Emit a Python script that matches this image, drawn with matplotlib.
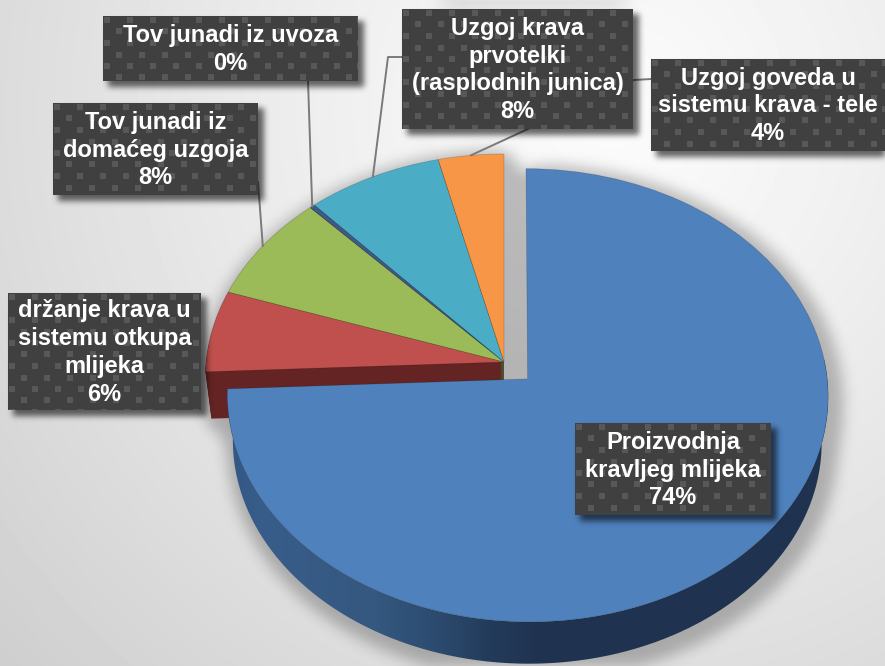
import numpy as np
import matplotlib
matplotlib.use('Agg')
import matplotlib.pyplot as plt
from matplotlib.path import Path
from matplotlib.transforms import Transform

plt.rcParams["font.family"] = ["Liberation Sans", "DejaVu Sans"]

# data
categories = ['Proizvodnja\nkravljeg mlijeka', 'držanje krava u\nsistemu otkupa\nmlijeka',
              'Tov junadi iz\ndomaćeg uzgoja', 'Tov junadi iz uvoza',
              'Uzgoj krava\nprvotelki\n(rasplodnih junica)', 'Uzgoj goveda u\nsistemu krava - tele']
shares = [74.3, 5.9, 7.8, 0.3, 7.9, 3.8]
explode = [0.109, 0, 0, 0, 0, 0]
colors = ['#4f81bd', '#c0504d', '#9bbb59', '#3f5a86', '#4bacc6', '#f79646']
wall_colors = ['#1f3350', '#632423', '#4f6228', '#403152', '#205867', '#974806']

# label boxes: x0, x1, y0, y1 in pixels
boxes = [(575, 771, 423, 515), (8, 201, 293, 410), (53, 258, 103, 195),
         (103, 358, 16, 81), (402, 633, 9, 129), (651, 885, 59, 151)]
# where the leader leaves the box, one or two points
leaders = [None, None, [(258, 182)], [(308, 81)], [(402, 57), (388, 57)], [(651, 79), (634, 80)]]

W, H = 885, 666
CX, CY, RX, RY, P = 504, 362, 298, 223, 0.0719
DEPTH, SHRINK = 47, 0.02


def project(x, y, t=0.0):
    w = 1 + P * y
    s = 1 - SHRINK * t
    return CX + s * RX * x / w, CY - s * RY * y / w + DEPTH * t


class Tilt(Transform):
    input_dims = 2
    output_dims = 2
    has_inverse = False

    def __init__(self, t=0.0):
        super().__init__()
        self.t = t

    def transform_non_affine(self, values):
        values = np.asarray(values)
        x, y = project(values[:, 0], values[:, 1], self.t)
        return np.column_stack([x, y])


def draw_pie(ax, t, cols, zorder, lw=0.0, edge='none'):
    wedges, _ = ax.pie(shares, explode=explode, startangle=90, counterclock=False, colors=cols,
                       wedgeprops={'linewidth': lw, 'edgecolor': edge})
    for w in wedges:
        w.set_transform(Tilt(t) + ax.transData)
        w.set_zorder(zorder)
    return wedges


def set_pixel_axes(ax):
    ax.set_aspect('auto')
    ax.set_xlim(0, W)
    ax.set_ylim(H, 0)
    ax.axis('off')


def blur(mask, sigma):
    pad = int(4 * sigma)
    padded = np.pad(mask, pad)
    fy = np.fft.fftfreq(padded.shape[0])[:, None]
    fx = np.fft.rfftfreq(padded.shape[1])[None, :]
    g = np.exp(-2 * (np.pi * sigma) ** 2 * (fx ** 2 + fy ** 2))
    out = np.fft.irfft2(np.fft.rfft2(padded) * g, s=padded.shape)
    return np.clip(out[pad:-pad, pad:-pad], 0, 1)


def shadow_layer(mask, alpha):
    rgba = np.zeros(mask.shape + (4,))
    rgba[..., 3] = mask * alpha
    return rgba


def pie_mask():
    # silhouette of the whole pie, rendered once on its own
    f = plt.figure(figsize=(W / 100, H / 100), dpi=100)
    a = f.add_axes([0, 0, 1, 1])
    for t in np.linspace(0, 1, 25):
        draw_pie(a, t, ['black'] * 6, 2)
    set_pixel_axes(a)
    f.canvas.draw()
    m = 1 - np.asarray(f.canvas.buffer_rgba())[..., 0] / 255.0
    plt.close(f)
    return m


def tile(w, h):
    img = np.full((h, w), 0x40, dtype=float)
    for r in range(0, h // 11 + 2):
        y = int(round(1 + r * 11.5))
        off = 1 if r % 2 == 0 else 13
        for x in range(off, w, 23):
            img[y:y + 6, x:x + 6] = 0x58
    return np.dstack([img / 255.0] * 3)


fig = plt.figure(figsize=(W / 100, H / 100), dpi=100)
ax = fig.add_axes([0, 0, 1, 1])

# background
yy, xx = np.mgrid[0:H, 0:W]
dist = np.hypot(xx - 610, yy - 110) / 680.0
bg = np.clip(0.985 - 0.14 * dist ** 1.2, 0, 1)
ax.imshow(bg, cmap='gray', vmin=0, vmax=1, extent=(0, W, H, 0), aspect='auto', zorder=0)

# pie shadow: silhouette grown a little, moved down right, then softened
m = (blur(pie_mask(), 9) > 0.12).astype(float)
m = np.roll(np.roll(m, 6, axis=0), 5, axis=1)
ax.imshow(shadow_layer(blur(m, 7), 0.25), extent=(0, W, H, 0), aspect='auto', zorder=1)

# sides of the small slices, then their tops
for i in range(DEPTH, 0, -1):
    ws = draw_pie(ax, i / DEPTH, wall_colors, 2)
    ws[0].set_visible(False)
tops = draw_pie(ax, 0, colors, 3, lw=0.5, edge=(0, 0, 0, 0.2))
tops[0].set_zorder(6)

# side of the big slice, shaded from left to right
big = tops[0]
ang = np.radians(np.linspace(big.theta1, 5, 300))
bx, by = big.center[0] + np.cos(ang), big.center[1] + np.sin(ang)
x0, y0 = project(bx, by, 0)
x1, y1 = project(bx, by, 1)
outline = np.column_stack([np.r_[x0, x1[::-1]], np.r_[y0, y1[::-1]]])
stops = [200, 260, 375, 440, 490, 540, 885]
shade = np.array([[0x2e, 0x52, 0x80], [0x38, 0x5d, 0x8a], [0x34, 0x58, 0x7f], [0x2c, 0x4a, 0x6e],
                  [0x23, 0x3b, 0x5a], [0x1f, 0x33, 0x50], [0x1f, 0x33, 0x50]]) / 255.0
grad = np.stack([np.interp(np.arange(W), stops, shade[:, c]) for c in range(3)], axis=-1)[None, :, :]
im = ax.imshow(grad, extent=(0, W, H, 0), aspect='auto', zorder=5)
im.set_clip_path(Path(outline), transform=ax.transData)

# leader lines end on the rim at each slice's mid angle
for wedge, lead in zip(tops, leaders):
    if lead is None:
        continue
    mid = np.radians((wedge.theta1 + wedge.theta2) / 2)
    ex, ey = project(np.cos(mid), np.sin(mid))
    px = [p[0] for p in lead] + [ex]
    py = [p[1] for p in lead] + [ey]
    ax.plot(px, py, color='#7a7a7a', linewidth=1.4, zorder=7)

# label boxes
mask = np.zeros((H, W))
for bx0, bx1, by0, by1 in boxes:
    mask[by0 + 5:by1 + 6, bx0 + 5:bx1 + 6] = 1
ax.imshow(shadow_layer(blur(mask, 3), 0.6), extent=(0, W, H, 0), aspect='auto', zorder=8)

for name, share, (bx0, bx1, by0, by1) in zip(categories, shares, boxes):
    ax.imshow(tile(bx1 - bx0, by1 - by0), extent=(bx0, bx1, by1, by0), aspect='auto', zorder=9)
    ax.text((bx0 + bx1) / 2, (by0 + by1) / 2 + 1, name + '\n' + str(round(share)) + '%', color='white',
            fontsize=17, fontweight='bold', ha='center', va='center', linespacing=1.27, zorder=10)

set_pixel_axes(ax)
fig.savefig('out.png', dpi=100)
